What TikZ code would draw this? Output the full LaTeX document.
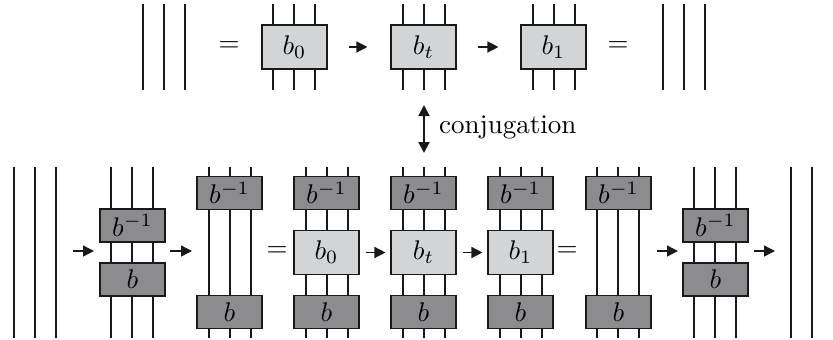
\documentclass[tikz,border=0pt]{standalone}
\usepackage{graphicx}
\usetikzlibrary{arrows.meta}
\definecolor{darkbox}{RGB}{140,140,142}
\definecolor{lightbox}{RGB}{211,212,214}
\definecolor{ink}{RGB}{25,25,25}
\newcommand\lab[1]{\scalebox{2.7}{#1}}
\begin{document}
\begin{tikzpicture}[x=1pt,y=-1pt,
  strandline/.style={draw=ink,line width=1.5pt},
  dbox/.style={draw=ink,line width=1.1pt,fill=darkbox,minimum width=65pt,minimum height=33pt,inner sep=0pt},
  lbox/.style={draw=ink,line width=1.1pt,fill=lightbox,minimum width=65pt,minimum height=44pt,inner sep=0pt},
  arr/.style={draw=ink,line width=1.4pt,-{Triangle[length=11pt,width=11pt]}},
  darr/.style={draw=ink,line width=2pt,{Triangle[length=11pt,width=11pt]}-{Triangle[length=11pt,width=11pt]}}]
\useasboundingbox (0,0) rectangle (833,340);
\newcommand\threestrands[3]{\foreach \dx in {-21,0,21}{\draw[strandline] (#1+\dx,#2) -- (#1+\dx,#3);}}
% ---------- top row ----------
\threestrands{164}{4}{90}
\node (eqA) at (229,47) {\lab{$=$}};
\threestrands{294}{4}{90}
\node[lbox] (tb0) at (294.5,47) {\lab{$b_0$}};
\threestrands{424}{4}{90}
\node[lbox] (tbt) at (423.5,47) {\lab{$b_t$}};
\threestrands{554}{4}{90}
\node[lbox] (tb1) at (553.5,47) {\lab{$b_1$}};
\node (eqB) at (618,47) {\lab{$=$}};
\threestrands{684}{4}{90}
\draw[arr] ([xshift=21pt]tb0.east) -- ([xshift=-23pt]tbt.west);
\draw[arr] ([xshift=21pt]tbt.east) -- ([xshift=-22pt]tb1.west);
% ---------- conjugation ----------
\coordinate (cu) at (424,105);
\coordinate (cd) at (424,153);
\draw[darr] (cu) -- (cd);
\node[anchor=west,inner sep=0pt] (conj) at (439,127) {\lab{conjugation}};
% ---------- bottom row ----------
\threestrands{35}{167}{338}
% block 1
\threestrands{132}{167}{338}
\node[dbox] (i1) at (132.5,225.5) {\lab{$b^{-1}$}};
\node[dbox] (p1) at (132.5,279.5) {\lab{$b$}};
% block 2
\threestrands{230}{167}{338}
\node[dbox] (i2) at (229.5,193) {\lab{$b^{-1}$}};
\node[dbox] (p2) at (229.5,312) {\lab{$b$}};
\node (eqC) at (277,252) {\lab{$=$}};
% block 3
\threestrands{327}{167}{338}
\node[dbox] (i3) at (326.5,193) {\lab{$b^{-1}$}};
\node[lbox] (m3) at (326.5,252.5) {\lab{$b_0$}};
\node[dbox] (p3) at (326.5,312) {\lab{$b$}};
% block 4
\threestrands{424}{167}{338}
\node[dbox] (i4) at (423.5,193) {\lab{$b^{-1}$}};
\node[lbox] (m4) at (423.5,252.5) {\lab{$b_t$}};
\node[dbox] (p4) at (423.5,312) {\lab{$b$}};
% block 5
\threestrands{521}{167}{338}
\node[dbox] (i5) at (520.5,193) {\lab{$b^{-1}$}};
\node[lbox] (m5) at (520.5,252.5) {\lab{$b_1$}};
\node[dbox] (p5) at (520.5,312) {\lab{$b$}};
\node (eqD) at (567,252) {\lab{$=$}};
% block 6
\threestrands{618}{167}{338}
\node[dbox] (i6) at (618.5,193) {\lab{$b^{-1}$}};
\node[dbox] (p6) at (618.5,312) {\lab{$b$}};
% block 7
\threestrands{715}{167}{338}
\node[dbox] (i7) at (715.5,225.5) {\lab{$b^{-1}$}};
\node[dbox] (p7) at (715.5,279.5) {\lab{$b$}};
% right strands
\foreach \x in {791,812}{\draw[strandline] (\x,167) -- (\x,338);}
% arrows bottom
\coordinate (a1s) at (73,251); \coordinate (a1e) at (94,251);
\draw[arr] (a1s) -- (a1e);
\coordinate (a2s) at (170,251); \coordinate (a2e) at (192,251);
\draw[arr] (a2s) -- (a2e);
\draw[arr] ([xshift=6pt]m3.east) -- ([xshift=-5pt]m4.west);
\draw[arr] ([xshift=6pt]m4.east) -- ([xshift=-5pt]m5.west);
\coordinate (a5s) at (657,251); \coordinate (a5e) at (678,251);
\draw[arr] (a5s) -- (a5e);
\coordinate (a6s) at (754,251); \coordinate (a6e) at (775,251);
\draw[arr] (a6s) -- (a6e);
\end{tikzpicture}
\end{document}
